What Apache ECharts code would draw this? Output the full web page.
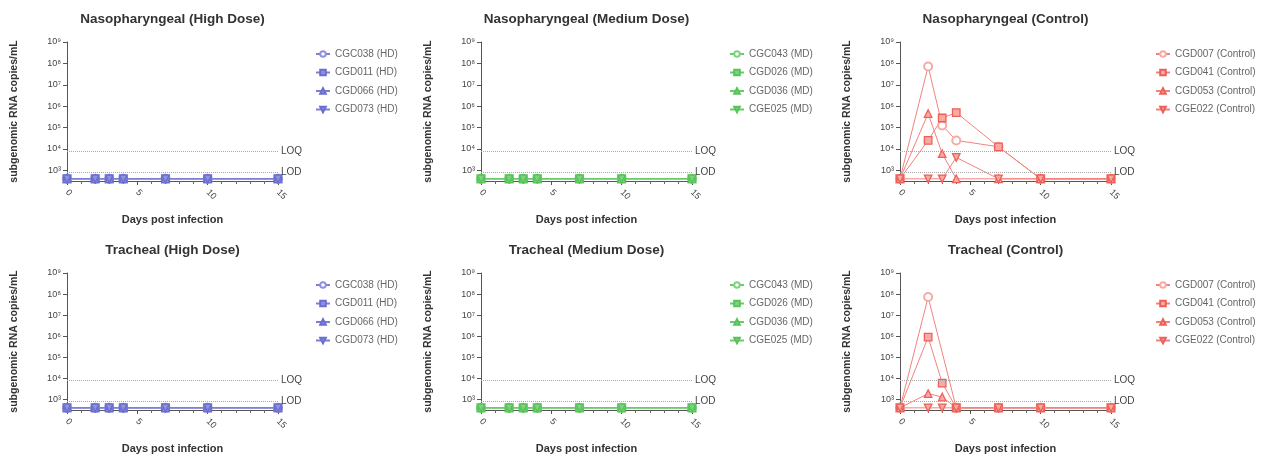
<!DOCTYPE html>
<html>
<head>
<meta charset="utf-8">
<title>subgenomic RNA</title>
<script src="https://cdn.jsdelivr.net/npm/echarts@6/dist/echarts.min.js"></script>
<style>
    html, body {
        margin: 0;
        padding: 0;
        background: #ffffff;
    }

    #chart {
        width: 1263px;
        height: 455px;
    }
</style>
</head>
<body>
<div id="chart"></div>
<script>
// sampling days
var days = [0, 2, 3, 4, 7, 10, 15];
// y ticks as powers of ten
var yTickPowers = [3, 4, 5, 6, 7, 8, 9];
var xTicks = [0, 5, 10, 15];

var LOQ = 7900;
var LOD = 790;

var hdNames = ['CGC038 (HD)', 'CGD011 (HD)', 'CGD066 (HD)', 'CGD073 (HD)'];
var mdNames = ['CGC043 (MD)', 'CGD026 (MD)', 'CGD036 (MD)', 'CGE025 (MD)'];
var ctrlNames = ['CGD007 (Control)', 'CGD041 (Control)', 'CGD053 (Control)', 'CGE022 (Control)'];

// copies/mL, null = no sample
var nasoHD = [
    [400, 400, 400, 400, 400, 400, 400],
    [400, 400, 400, 400, 400, 400, 400],
    [400, 400, 400, 400, 400, 400, 400],
    [400, 400, 400, 400, 400, 400, 400]
];
var nasoMD = [
    [400, 400, 400, 400, 400, 400, 400],
    [400, 400, 400, 400, 400, 400, 400],
    [400, 400, 400, 400, 400, 400, 400],
    [400, 400, 400, 400, 400, 400, 400]
];
var nasoCtrl = [
    [400, 72000000, 126000, 25000, 12600, 400, 400],
    [400, 25000, 280000, 500000, 12600, 400, 400],
    [400, 450000, 6000, 400, 400, 400, 400],
    [400, 400, 400, 4000, 400, 400, 400]
];
var trachHD = [
    [400, 400, 400, 400, 400, 400, 400],
    [400, 400, 400, 400, 400, 400, 400],
    [400, 400, 400, 400, 400, 400, 400],
    [400, 400, 400, 400, 400, 400, 400]
];
var trachMD = [
    [400, 400, 400, 400, 400, 400, 400],
    [400, 400, 400, 400, 400, 400, 400],
    [400, 400, 400, 400, 400, 400, 400],
    [400, 400, 400, 400, 400, 400, 400]
];
var trachCtrl = [
    [400, 72000000, null, 400, 400, 400, 400],
    [400, 910000, 6000, 400, 400, 400, 400],
    [400, 1900, 1300, 400, 400, 400, 400],
    [400, 400, 400, 400, 400, 400, 400]
];

var sup = {3: '³', 4: '⁴', 5: '⁵', 6: '⁶', 7: '⁷', 8: '⁸', 9: '⁹'};
var font = '"Liberation Sans", Arial, sans-serif';
var symbols = ['emptyCircle', 'rect', 'triangle', 'path://M0,0L10,0L5,9Z'];

var panels = [
    {title: 'Nasopharyngeal (High Dose)', names: hdNames, values: nasoHD, color: '#6a6ecf', line: '#7b7fd6', fill: '#8f92dc'},
    {title: 'Nasopharyngeal (Medium Dose)', names: mdNames, values: nasoMD, color: '#58c35a', line: '#6acb6b', fill: '#7fd380'},
    {title: 'Nasopharyngeal (Control)', names: ctrlNames, values: nasoCtrl, color: '#ee5f58', line: '#f3827c', fill: '#f8aaa5'},
    {title: 'Tracheal (High Dose)', names: hdNames, values: trachHD, color: '#6a6ecf', line: '#7b7fd6', fill: '#8f92dc'},
    {title: 'Tracheal (Medium Dose)', names: mdNames, values: trachMD, color: '#58c35a', line: '#6acb6b', fill: '#7fd380'},
    {title: 'Tracheal (Control)', names: ctrlNames, values: trachCtrl, color: '#ee5f58', line: '#f3827c', fill: '#f8aaa5'}
];

// layout in px
var gridLefts = [67, 481, 900];
var gridTops = [42, 273];
var gridW = 211;
var gridH = 139;
var legendLefts = [310, 724, 1150];

var grids = [], xAxes = [], yAxes = [], series = [], legends = [], graphics = [];

panels.forEach(function (p, i) {
    var col = i % 3;
    var row = Math.floor(i / 3);
    var left = gridLefts[col];
    var top = gridTops[row];

    grids.push({left: left, top: top, width: gridW, height: gridH});

    graphics.push({
        type: 'text',
        x: left + gridW / 2,
        y: top - 23,
        style: {
            text: p.title,
            textAlign: 'center',
            textVerticalAlign: 'middle',
            font: 'bold 13.5px ' + font,
            fill: '#333'
        }
    });

    xAxes.push({
        type: 'value',
        gridIndex: i,
        min: 0,
        max: 15,
        interval: 5,
        name: 'Days post infection',
        nameLocation: 'middle',
        nameGap: 33,
        nameTextStyle: {fontFamily: font, fontSize: 11, fontWeight: 'bold', color: '#333'},
        axisLine: {lineStyle: {color: '#555', width: 1}},
        axisTick: {length: 4, lineStyle: {color: '#555'}},
        minorTick: {show: true, splitNumber: 5, length: 3, lineStyle: {color: '#666'}},
        splitLine: {show: false},
        axisLabel: {
            rotate: -45,
            fontFamily: font,
            fontSize: 9,
            color: '#444',
            margin: 10
        }
    });

    yAxes.push({
        type: 'value',
        gridIndex: i,
        min: 2.5,
        max: 9,
        name: 'subgenomic RNA copies/mL',
        nameLocation: 'middle',
        nameGap: 47,
        nameTextStyle: {fontFamily: font, fontSize: 10.5, fontWeight: 'bold', color: '#333'},
        axisLine: {show: true, lineStyle: {color: '#555', width: 1}},
        axisTick: {show: true, length: 4, customValues: yTickPowers, lineStyle: {color: '#555'}},
        splitLine: {show: false},
        axisLabel: {
            customValues: yTickPowers,
            formatter: function (v) { return '10' + sup[v]; },
            fontFamily: font,
            fontSize: 9,
            color: '#444',
            margin: 6
        }
    });

    p.names.forEach(function (name, k) {
        var s = {
            name: name,
            type: 'line',
            xAxisIndex: i,
            yAxisIndex: i,
            symbol: symbols[k],
            symbolSize: k === 0 ? 8 : 7.5,
            connectNulls: true,
            lineStyle: {color: p.line, width: 1},
            itemStyle: {color: p.fill, borderColor: p.color, borderWidth: 1.3},
            emphasis: {disabled: true},
            data: days.map(function (d, j) {
                var v = p.values[k][j];
                return [d, v === null ? '-' : Math.log10(v)];
            })
        };
        if (k === 0) {
            s.markLine = {
                silent: true,
                symbol: 'none',
                animation: false,
                lineStyle: {type: 'dotted', color: '#a8a8a8', width: 1},
                label: {position: 'end', formatter: '{b}', fontFamily: font, fontSize: 10, color: '#444', distance: 3},
                data: [
                    {name: 'LOQ', yAxis: Math.log10(LOQ)},
                    {name: 'LOD', yAxis: Math.log10(LOD)}
                ]
            };
        }
        series.push(s);
    });

    legends.push({
        orient: 'vertical',
        left: legendLefts[col],
        top: top + 1,
        itemWidth: 14,
        itemHeight: 7,
        itemGap: 6.5,
        data: p.names,
        selectedMode: false,
        textStyle: {fontFamily: font, fontSize: 10, color: '#666', lineHeight: 12}
    });
});

var myChart = echarts.init(document.getElementById('chart'));
myChart.setOption({
    animation: false,
    grid: grids,
    xAxis: xAxes,
    yAxis: yAxes,
    legend: legends,
    graphic: graphics,
    series: series
});
</script>
</body>
</html>
